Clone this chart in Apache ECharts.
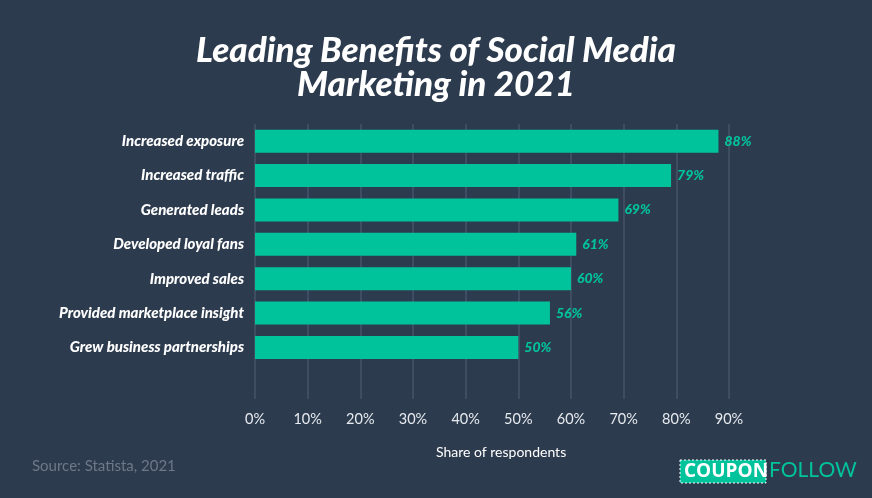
<!DOCTYPE html>
<html>
<head>
<meta charset="utf-8">
<script src="https://cdn.jsdelivr.net/npm/echarts@6/dist/echarts.min.js"></script>
<style>
  html, body { margin: 0; padding: 0; background: #2d3b4e; }
  #main { width: 872px; height: 498px; }
</style>
</head>
<body>
<div id="main"></div>
<script>
// data
const categories = [
  'Increased exposure',
  'Increased traffic',
  'Generated leads',
  'Developed loyal fans',
  'Improved sales',
  'Provided marketplace insight',
  'Grew business partnerships'
]
const shares = [88, 79, 69, 61, 60, 56, 50]
const tickValues = [0, 10, 20, 30, 40, 50, 60, 70, 80, 90]

const bg = '#2d3b4e'
const teal = '#00c39c'

var myChart = echarts.init(document.getElementById('main'))

var option = {
  backgroundColor: bg,
  animation: false,
  title: {
    text: 'Leading Benefits of Social Media\nMarketing in 2021',
    left: 'center',
    top: 29,
    textStyle: {
      color: '#ffffff',
      fontFamily: 'Lato',
      fontWeight: 900,
      fontStyle: 'italic',
      fontSize: 35,
      lineHeight: 34
    }
  },
  grid: {
    left: 255,
    right: 872 - 729,
    top: 124,
    bottom: 498 - 399
  },
  xAxis: {
    type: 'value',
    min: 0,
    max: 90,
    interval: 10,
    axisLine: { show: false },
    axisTick: { show: false },
    splitLine: { lineStyle: { color: '#46556a', width: 1.5 } },
    axisLabel: {
      margin: 13,
      color: '#e6eaef',
      fontFamily: 'Lato',
      fontSize: 14.5,
      formatter: (v) => (tickValues.includes(v) ? v + '%' : '')
    }
  },
  yAxis: {
    type: 'category',
    data: categories,
    inverse: true,
    min: 0,
    max: categories.length,
    axisLine: { show: false },
    axisTick: { show: false },
    axisLabel: {
      margin: 11,
      color: '#ffffff',
      fontFamily: 'Lato',
      fontWeight: 900,
      fontStyle: 'italic',
      fontSize: 15
    }
  },
  series: [
    {
      type: 'bar',
      data: shares,
      barWidth: 23,
      itemStyle: { color: teal },
      label: {
        show: true,
        position: 'right',
        distance: 6,
        formatter: '{c}%',
        color: teal,
        fontFamily: 'Lato',
        fontWeight: 900,
        fontStyle: 'italic',
        fontSize: 14
      }
    }
  ],
  graphic: [
    {
      type: 'text',
      left: 436,
      top: 445,
      style: {
        text: 'Share of respondents',
        fill: '#ffffff',
        font: '14px Lato'
      }
    },
    {
      type: 'text',
      left: 32,
      top: 459,
      style: {
        text: 'Source: Statista, 2021',
        fill: '#6d7889',
        font: '15px Lato'
      }
    },
    {
      type: 'rect',
      shape: { x: 680, y: 460, width: 86, height: 23 },
      style: { fill: teal, stroke: '#ffffff', lineWidth: 1, lineDash: [2, 2] }
    },
    {
      type: 'text',
      left: 684,
      top: 462,
      style: {
        text: 'COUPON',
        fill: '#ffffff',
        font: 'bold 19px "Open Sans"'
      }
    },
    {
      type: 'text',
      left: 769,
      top: 460,
      style: {
        text: 'FOLLOW',
        fill: teal,
        font: '21px Lato'
      }
    }
  ]
}

myChart.setOption(option)
window.onresize = function () {
  myChart.resize()
}
</script>
</body>
</html>
